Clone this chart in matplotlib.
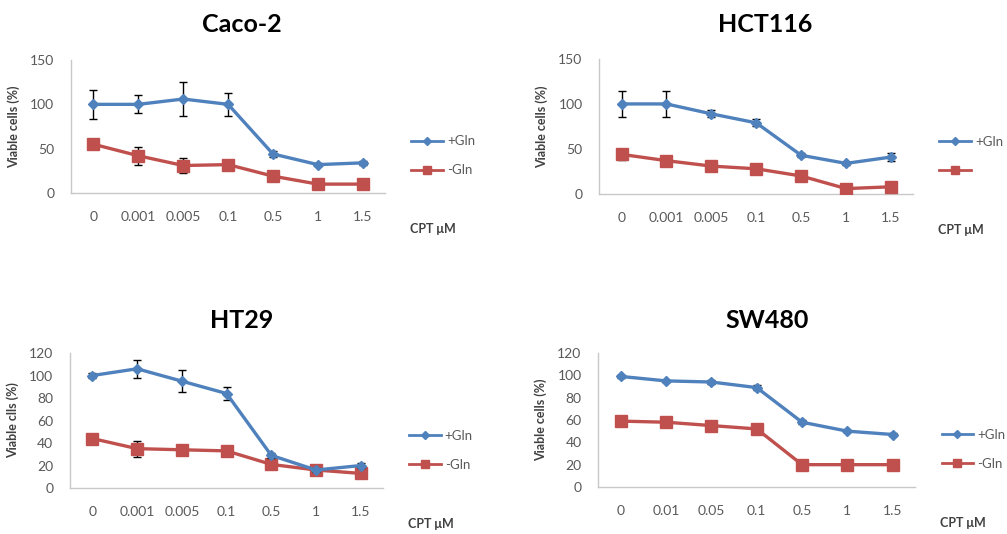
import matplotlib.pyplot as plt
from matplotlib.lines import Line2D
import numpy as np

plt.rcParams['font.family'] = ['Lato', 'DejaVu Sans']

doses_a = ["0", "0.001", "0.005", "0.1", "0.5", "1", "1.5"]
doses_b = ["0", "0.01", "0.05", "0.1", "0.5", "1", "1.5"]

caco_plus = [100, 100, 106, 100, 44, 32, 34]
caco_plus_err = [16, 10, 19, 13, 3, 2, 2]
caco_minus = [55, 42, 31, 32, 19, 10, 10]
caco_minus_err = [2, 10, 9, 4, 2, 2, 2]

hct_plus = [100, 100, 89, 79, 43, 34, 41]
hct_plus_err = [14, 14, 4, 4, 2, 2, 4]
hct_minus = [44, 37, 31, 28, 20, 6, 8]
hct_minus_err = [6, 4, 2, 2, 3, 2, 2]

ht_plus = [100, 106, 95, 84, 29, 16, 20]
ht_plus_err = [2, 8, 9.5, 6, 2, 2, 2]
ht_minus = [44, 35, 34, 33, 21, 16, 13]
ht_minus_err = [2, 7, 2, 3, 3, 2, 2]

sw_plus = [99, 95, 94, 89, 58, 50, 47]
sw_plus_err = [1, 1, 2, 2, 2, 1, 1]
sw_minus = [59, 58, 55, 52, 20, 20, 20]
sw_minus_err = [2, 2, 2, 2, 2, 1, 1]

BLUE = "#4F81BD"
RED = "#C0504D"
GRAY = "#595959"

fig = plt.figure(figsize=(10.07, 5.34), dpi=100)

panels = [
    # title, title pos (px), axes rect, ticks, ymax, step, ylabel, series, minus label
    ("Caco-2", (242, 25), [0.0705, 0.6386, 0.312, 0.249], doses_a, 150, 50,
     "Viable cells (%)", (caco_plus, caco_plus_err, caco_minus, caco_minus_err), "-Gln"),
    ("HCT116", (765, 25), [0.595, 0.6367, 0.312, 0.253], doses_a, 150, 50,
     "Viable cells (%)", (hct_plus, hct_plus_err, hct_minus, hct_minus_err), ""),
    ("HT29", (242, 320), [0.0695, 0.0861, 0.311, 0.2528], doses_a, 120, 20,
     "Viable clls (%)", (ht_plus, ht_plus_err, ht_minus, ht_minus_err), "-Gln"),
    ("SW480", (767, 320), [0.594, 0.088, 0.315, 0.251], doses_b, 120, 20,
     "Viable cells (%)", (sw_plus, sw_plus_err, sw_minus, sw_minus_err), "-Gln"),
]

for title, tpos, rect, ticks, ymax, step, ylab, series, mlab in panels:
    ax = fig.add_axes(rect)
    plus, plus_err, minus, minus_err = series
    x = np.arange(len(ticks))
    ax.errorbar(x, minus, yerr=minus_err, color=RED, ecolor="black", elinewidth=1,
                capsize=3, capthick=1, lw=2.4, marker="s", ms=8, mec=RED, zorder=3)
    ax.errorbar(x, plus, yerr=plus_err, color=BLUE, ecolor="black", elinewidth=1,
                capsize=3, capthick=1, lw=2.4, marker="D", ms=5.5, mec=BLUE, zorder=4)
    ax.set_xlim(-0.5, len(ticks) - 0.5)
    ax.set_ylim(0, ymax)
    ax.set_yticks(np.arange(0, ymax + 1, step))
    ax.set_xticks(x)
    ax.set_xticklabels(ticks)
    ax.tick_params(length=0, labelsize=10, colors=GRAY)
    ax.tick_params(axis="y", pad=12)
    ax.tick_params(axis="x", pad=13)
    for s in ("top", "right"):
        ax.spines[s].set_visible(False)
    for s in ("left", "bottom"):
        ax.spines[s].set_color("#C8C8C8")
        ax.spines[s].set_linewidth(1)
    ax.set_ylabel(ylab, fontsize=9, fontweight="bold", color="#404040", labelpad=7)

    handles = [
        Line2D([], [], color=BLUE, lw=2, marker="D", ms=4, mec=BLUE),
        Line2D([], [], color=RED, lw=2, marker="s", ms=6, mec=RED),
    ]
    ax.legend(handles, ["+Gln", mlab if mlab else " "], loc="center left",
              bbox_to_anchor=(1.045, 0.28), frameon=False, fontsize=9.5,
              labelcolor=GRAY, handlelength=2.4, handletextpad=0.3, labelspacing=1.3)

    fig.text(tpos[0] / 1007, 1 - tpos[1] / 534, title, ha="center", va="center",
             fontsize=18, fontweight="bold")
    x_right = (rect[0] + rect[2]) * 1007 + 25
    fig.text(x_right / 1007, rect[1] - 36 / 534, "CPT μM", ha="left", va="center",
             fontsize=9, fontweight="bold", color="#404040")

fig.savefig("out.png", dpi=100)
